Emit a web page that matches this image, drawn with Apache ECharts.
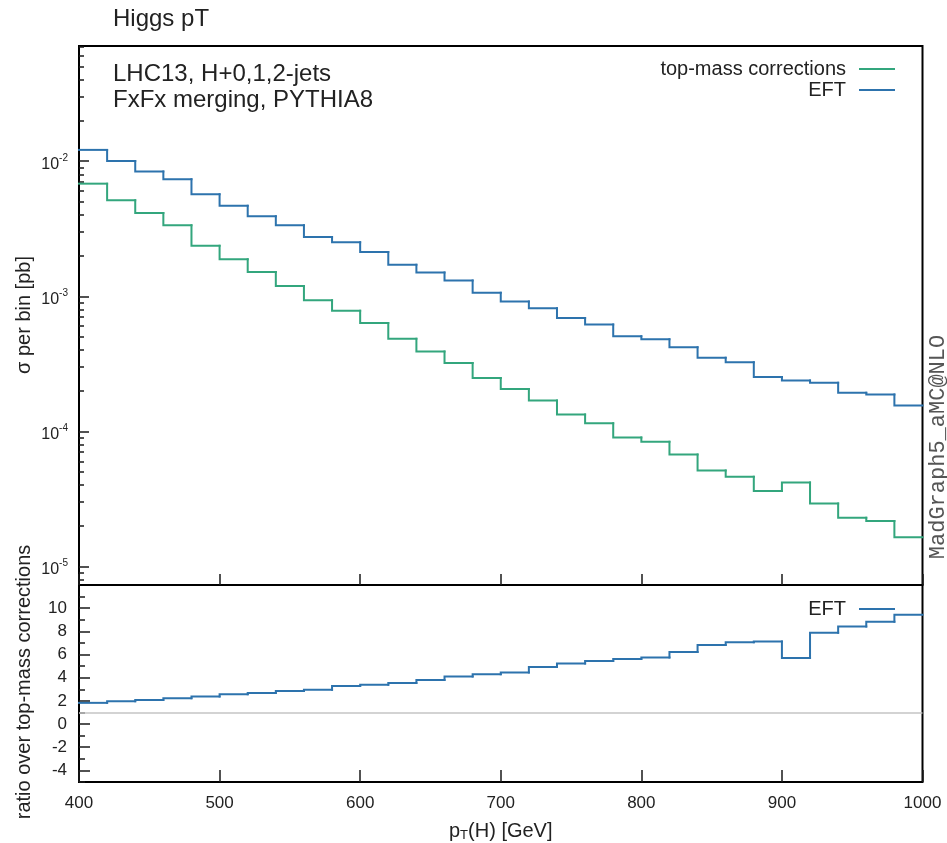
<!DOCTYPE html>
<html>
<head>
<meta charset="utf-8">
<script src="https://cdn.jsdelivr.net/npm/echarts@6/dist/echarts.min.js"></script>
<style>
html,body{margin:0;padding:0;background:#fff;}
#c{width:947px;height:843px;}
</style>
</head>
<body>
<div id="c"></div>
<script>
// ---- data ----
const binEdges = [400,420,440,460,480,500,520,540,560,580,600,620,640,660,680,700,720,740,760,780,800,820,840,860,880,900,920,940,960,980,1000];
const topMass = [0.00682,0.00514,0.00414,0.00336,0.00237,0.00188,0.00151,0.00119,0.000936,0.000780,
  0.000634,0.000484,0.000390,0.000320,0.000248,0.000206,0.000169,0.000133,0.000115,0.0000900,
  0.0000836,0.0000673,0.0000513,0.0000460,0.0000361,0.0000418,0.0000292,0.0000229,0.0000217,0.0000164];
const eft = [0.01213,0.01005,0.00838,0.00736,0.00570,0.00467,0.00392,0.00336,0.00275,0.00251,
  0.00213,0.00171,0.00150,0.00131,0.00106,0.000914,0.000816,0.000689,0.000618,0.000505,
  0.000481,0.000420,0.000350,0.000325,0.000253,0.000238,0.000229,0.000193,0.000187,0.000155];
const ratioEft = [1.83,1.97,2.08,2.22,2.38,2.58,2.67,2.86,2.97,3.28,
  3.39,3.55,3.80,4.11,4.30,4.44,4.92,5.22,5.44,5.61,
  5.75,6.22,6.83,7.05,7.13,5.69,7.88,8.42,8.83,9.44];
const ratioReference = 1;
const logMajorTicks = [1e-5,1e-4,1e-3,1e-2];
const ratioMajorTicks = [-4,-2,0,2,4,6,8,10];
const ratioMinorTicks = [-5,-3,-1,1,3,5,7,9,11];

// ---- helpers ----
function binData(vals){
  return vals.map((v,i)=>[binEdges[i], binEdges[i+1], v, i>0 ? vals[i-1] : v]);
}
function stepRenderer(color){
  return function(params, api){
    const x0=api.value(0), x1=api.value(1), v=api.value(2), pv=api.value(3);
    const pts=[];
    if (params.dataIndex>0) pts.push(api.coord([x0,pv]));
    pts.push(api.coord([x0,v]), api.coord([x1,v]));
    return {type:'polyline', shape:{points:pts},
      style:{stroke:color, lineWidth:2, fill:null, lineCap:'square', lineJoin:'miter'}};
  };
}
const logMinorTicks = [];
for (let e=-6;e<=-1;e++){ for(let m=2;m<=9;m++){ logMinorTicks.push(m*Math.pow(10,e)); } }

const GREEN = '#33a67d';
const BLUE = '#2d73ad';
const FONT = 'Liberation Sans';
const TXT = '#222';
const TICK = {color:'#1a1a1a', width:1.5};
const yTopMin = 7.28e-6, yTopMax = 0.0713;

const gridL = 79, gridR = 947-922.5;
const chart = echarts.init(document.getElementById('c'));
chart.setOption({
  animation:false,
  textStyle:{fontFamily:FONT},
  grid:[
    {left:gridL, right:gridR, top:46, height:539, show:true, borderColor:'#000', borderWidth:2, backgroundColor:'transparent'},
    {left:gridL, right:gridR, top:585, height:203.5, show:true, borderColor:'#000', borderWidth:2, backgroundColor:'transparent'}
  ],
  xAxis:[
    {type:'value', gridIndex:0, position:'bottom', min:400, max:1000, interval:100,
     axisLine:{show:false, onZero:false}, axisLabel:{show:false}, splitLine:{show:false},
     axisTick:{show:true, inside:true, length:11, lineStyle:TICK}},
    {type:'value', gridIndex:1, position:'bottom', min:400, max:1000, interval:100,
     axisLine:{show:false, onZero:false}, splitLine:{show:false},
     axisTick:{show:true, inside:true, length:12, lineStyle:TICK},
     axisLabel:{color:TXT, fontSize:17, margin:13, fontFamily:FONT, showMinLabel:true, showMaxLabel:true,
       formatter:function(v){ return String(v); }},
     name:'{a|p}{s|T}{a|(H) [GeV]}', nameLocation:'middle', nameGap:38,
     nameTextStyle:{rich:{a:{fontSize:20, color:TXT, fontFamily:FONT}, s:{fontSize:13, color:TXT, fontFamily:FONT, padding:[9,0,0,0]}}}}
  ],
  yAxis:[
    {type:'log', gridIndex:0, position:'left', min:yTopMin, max:yTopMax, logBase:10,
     axisLine:{show:false, onZero:false}, splitLine:{show:false},
     axisTick:{show:true, inside:true, length:10, customValues:logMajorTicks, lineStyle:TICK},
     axisLabel:{customValues:logMajorTicks, margin:11, color:TXT,
       formatter:function(v){ const e=Math.round(Math.log10(v)); return '{b|10}{s|'+e+'}'; },
       rich:{b:{fontSize:16, color:TXT, fontFamily:FONT, padding:[6,0,0,0]}, s:{fontSize:10, color:TXT, fontFamily:FONT, padding:[0,0,6,0]}}}},
    {type:'log', gridIndex:0, position:'left', min:yTopMin, max:yTopMax, logBase:10,
     axisLine:{show:false, onZero:false}, splitLine:{show:false}, axisLabel:{show:false},
     axisTick:{show:true, inside:true, length:5, customValues:logMinorTicks, lineStyle:TICK}},
    {type:'value', gridIndex:1, position:'left', min:-5, max:12,
     axisLine:{show:false, onZero:false}, splitLine:{show:false},
     axisTick:{show:true, inside:true, length:11, customValues:ratioMajorTicks, lineStyle:TICK},
     axisLabel:{customValues:ratioMajorTicks, margin:12, color:TXT, fontSize:17, fontFamily:FONT}},
    {type:'value', gridIndex:1, position:'left', min:-5, max:12,
     axisLine:{show:false, onZero:false}, splitLine:{show:false}, axisLabel:{show:false},
     axisTick:{show:true, inside:true, length:6, customValues:ratioMinorTicks, lineStyle:TICK}}
  ],
  legend:[
    {right:947-900, top:54, orient:'vertical', align:'right', icon:'rect', itemWidth:36, itemHeight:2, itemGap:1,
     data:['top-mass corrections','EFT'], selectedMode:false,
     textStyle:{fontSize:20, color:TXT, fontFamily:FONT, padding:[0,8,0,0], lineHeight:20}},
    {right:947-900, top:594, orient:'vertical', align:'right', icon:'rect', itemWidth:36, itemHeight:2,
     data:['EFT'], selectedMode:false,
     textStyle:{fontSize:20, color:TXT, fontFamily:FONT, padding:[0,8,0,0], lineHeight:20}}
  ],
  series:[
    {name:'top-mass corrections', type:'custom', xAxisIndex:0, yAxisIndex:0, data:binData(topMass),
     encode:{x:[0,1], y:[2,3]}, renderItem:stepRenderer(GREEN), itemStyle:{color:GREEN}},
    {name:'EFT', type:'custom', xAxisIndex:0, yAxisIndex:0, data:binData(eft),
     encode:{x:[0,1], y:[2,3]}, renderItem:stepRenderer(BLUE), itemStyle:{color:BLUE}},
    {name:'EFT', type:'custom', xAxisIndex:1, yAxisIndex:2, data:binData(ratioEft), z:3,
     encode:{x:[0,1], y:[2,3]}, renderItem:stepRenderer(BLUE), itemStyle:{color:BLUE},
     markLine:{silent:true, symbol:'none', label:{show:false}, lineStyle:{color:'#c4c4c4', width:1.5, type:'solid'},
       data:[{yAxis:ratioReference}]}}
  ],
  graphic:[
    {type:'text', left:113, top:7, style:{text:'Higgs pT', fontSize:24, fill:TXT, fontFamily:FONT}},
    {type:'text', left:113, top:62, style:{text:'LHC13, H+0,1,2-jets', fontSize:24, fill:TXT, fontFamily:FONT}},
    {type:'text', left:113, top:88, style:{text:'FxFx merging, PYTHIA8', fontSize:24, fill:TXT, fontFamily:FONT}},
    {type:'text', x:24, y:315, rotation:Math.PI/2, style:{text:'σ per bin [pb]', fontSize:20, fill:TXT, fontFamily:FONT, align:'center', verticalAlign:'middle'}},
    {type:'text', x:24, y:682, rotation:Math.PI/2, style:{text:'ratio over top-mass corrections', fontSize:20, fill:TXT, fontFamily:FONT, align:'center', verticalAlign:'middle'}},
    {type:'text', x:938, y:447, rotation:Math.PI/2, style:{text:'MadGraph5_aMC@NLO', fontSize:22, fill:'#555', fontFamily:'Liberation Mono', align:'center', verticalAlign:'middle'}}
  ]
});
</script>
</body>
</html>
